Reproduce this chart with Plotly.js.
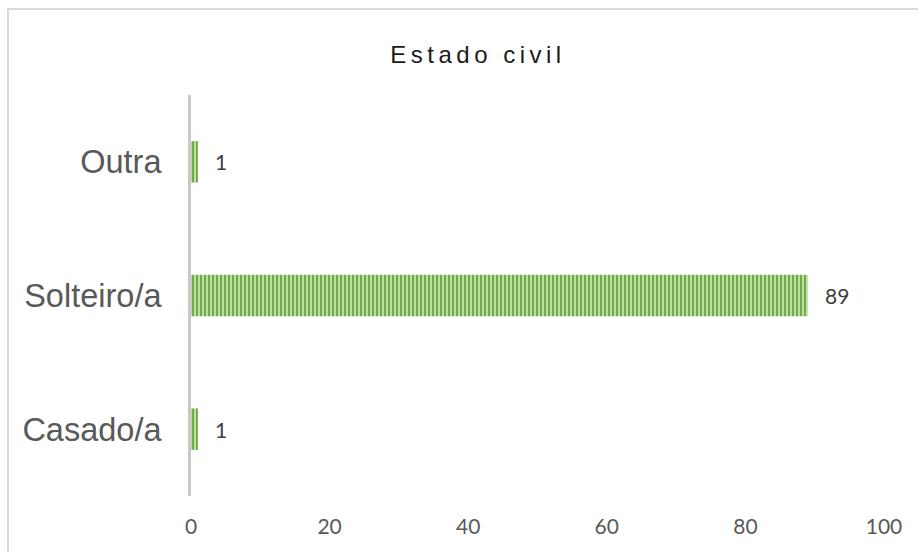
<!DOCTYPE html>
<html>
<head>
<meta charset="utf-8">
<script src="https://cdn.plot.ly/plotly-3.0.1.min.js"></script>
<style>
  html, body { margin: 0; padding: 0; background: #fff; }
  #wrap { position: relative; width: 918px; height: 552px; overflow: hidden; }
  #frame { position: absolute; left: 7px; top: 8px; width: 1000px; height: 1000px;
           border-left: 2px solid #d9d9d9; border-top: 2px solid #d9d9d9; pointer-events: none; }
  #chart { position: absolute; left: 0; top: 0; width: 918px; height: 552px; }
  .gtitle { letter-spacing: 4.5px; }
</style>
</head>
<body>
<div id="wrap">
  <div id="chart"></div>
  <div id="frame"></div>
</div>
<script>
const categories = ["Casado/a", "Solteiro/a", "Outra"];
const values = [1, 89, 1];
const xTickVals = [0, 20, 40, 60, 80, 100];
const xTickText = ["0", "20", "40", "60", "80", "100"];
const chartTitle = "Estado civil";

const trace = {
  type: "bar",
  orientation: "h",
  x: values,
  y: categories,
  width: 0.31,
  marker: {
    color: "#a9d18e",
    line: { width: 0 },
    pattern: { shape: "|", fgcolor: "#70ad47", bgcolor: "#bddca6", size: 4, solidity: 0.5 }
  },
  hoverinfo: "none"
};

const annotations = values.map((v, i) => ({
  x: v, y: categories[i], xref: "x", yref: "y",
  text: String(v), showarrow: false, xanchor: "left", yanchor: "middle",
  xshift: 15,
  font: { family: "Lato, 'Open Sans', sans-serif", size: 21, color: "#404040" }
}));

const layout = {
  width: 918, height: 552,
  margin: { l: 191, r: 34, t: 95, b: 56 },
  paper_bgcolor: "rgba(0,0,0,0)",
  plot_bgcolor: "rgba(0,0,0,0)",
  showlegend: false,
  title: {
    text: chartTitle,
    font: { family: "'Liberation Sans', Arial, sans-serif", size: 24, color: "#1a1a1a" },
    x: 478 / 918, xref: "container", xanchor: "center",
    y: 1 - 55 / 552, yref: "container", yanchor: "middle"
  },
  xaxis: {
    range: [0, 100],
    tickvals: xTickVals, ticktext: xTickText,
    showgrid: false, zeroline: false, showline: false,
    ticks: "outside", ticklen: 12, tickcolor: "rgba(0,0,0,0)",
    tickfont: { family: "Lato, 'Open Sans', sans-serif", size: 21, color: "#595959" },
    fixedrange: true
  },
  yaxis: {
    categoryorder: "array", categoryarray: categories,
    showgrid: false, zeroline: false,
    showline: true, linecolor: "#c8c8c8", linewidth: 3,
    ticks: "outside", ticklen: 20, tickcolor: "rgba(0,0,0,0)",
    tickfont: { family: "'Liberation Sans', Arial, sans-serif", size: 32.5, color: "#595959" },
    fixedrange: true
  },
  bargap: 0.69,
  annotations: annotations
};

Plotly.newPlot("chart", [trace], layout, { displayModeBar: false, staticPlot: true });
</script>
</body>
</html>
